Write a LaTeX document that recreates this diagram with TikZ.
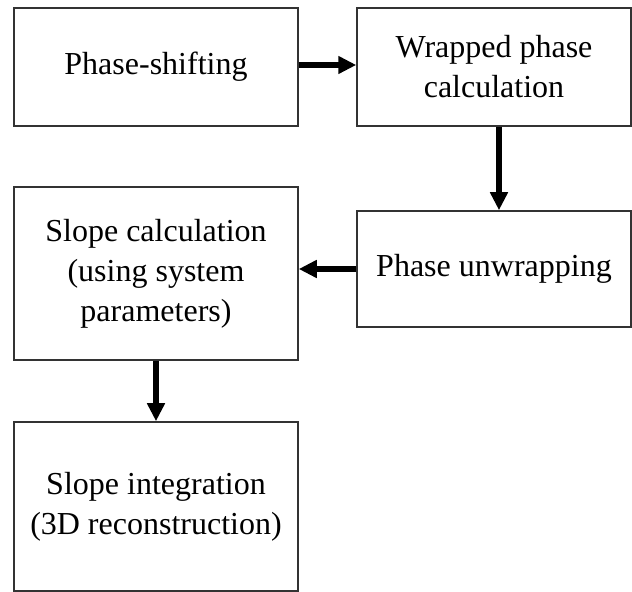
\documentclass[tikz,border=0pt]{standalone}
\usepackage{fontspec}
\setmainfont{Liberation Serif}
\usetikzlibrary{arrows.meta}
\begin{document}
\begin{tikzpicture}[x=0.5pt,y=-0.5pt,
  box/.style={draw=black!80, line width=0.75pt, inner sep=0pt, align=center,
    font=\fontsize{16}{20}\selectfont},
  flow/.style={line width=3pt, -{Triangle[width=8.5pt,length=9pt]}}]
\useasboundingbox (0,0) rectangle (632,592);
% process steps
\node[box, minimum width=142pt, minimum height=59pt] (shift) at (156,67) {Phase-shifting};
\node[box, minimum width=137pt, minimum height=59pt] (wrap) at (494,67) {Wrapped phase\\calculation};
\node[box, minimum width=137pt, minimum height=58pt] (unwrap) at (494,269) {Phase unwrapping};
\node[box, minimum width=142pt, minimum height=86.5pt] (slope) at (156,273.5) {Slope calculation\\(using system\\parameters)};
\node[box, minimum width=142pt, minimum height=84.5pt] (integ) at (156,506.5) {Slope integration\\(3D reconstruction)};
% flow between steps
\draw[flow] ([yshift=1pt]shift.east) -- ([yshift=1pt]wrap.west);
\draw[flow] ([xshift=2.5pt]wrap.south) -- ([xshift=2.5pt]unwrap.north);
\draw[flow] (unwrap.west) -- (unwrap.west -| slope.east);
\draw[flow] (slope.south) -- (integ.north);
\end{tikzpicture}
\end{document}
